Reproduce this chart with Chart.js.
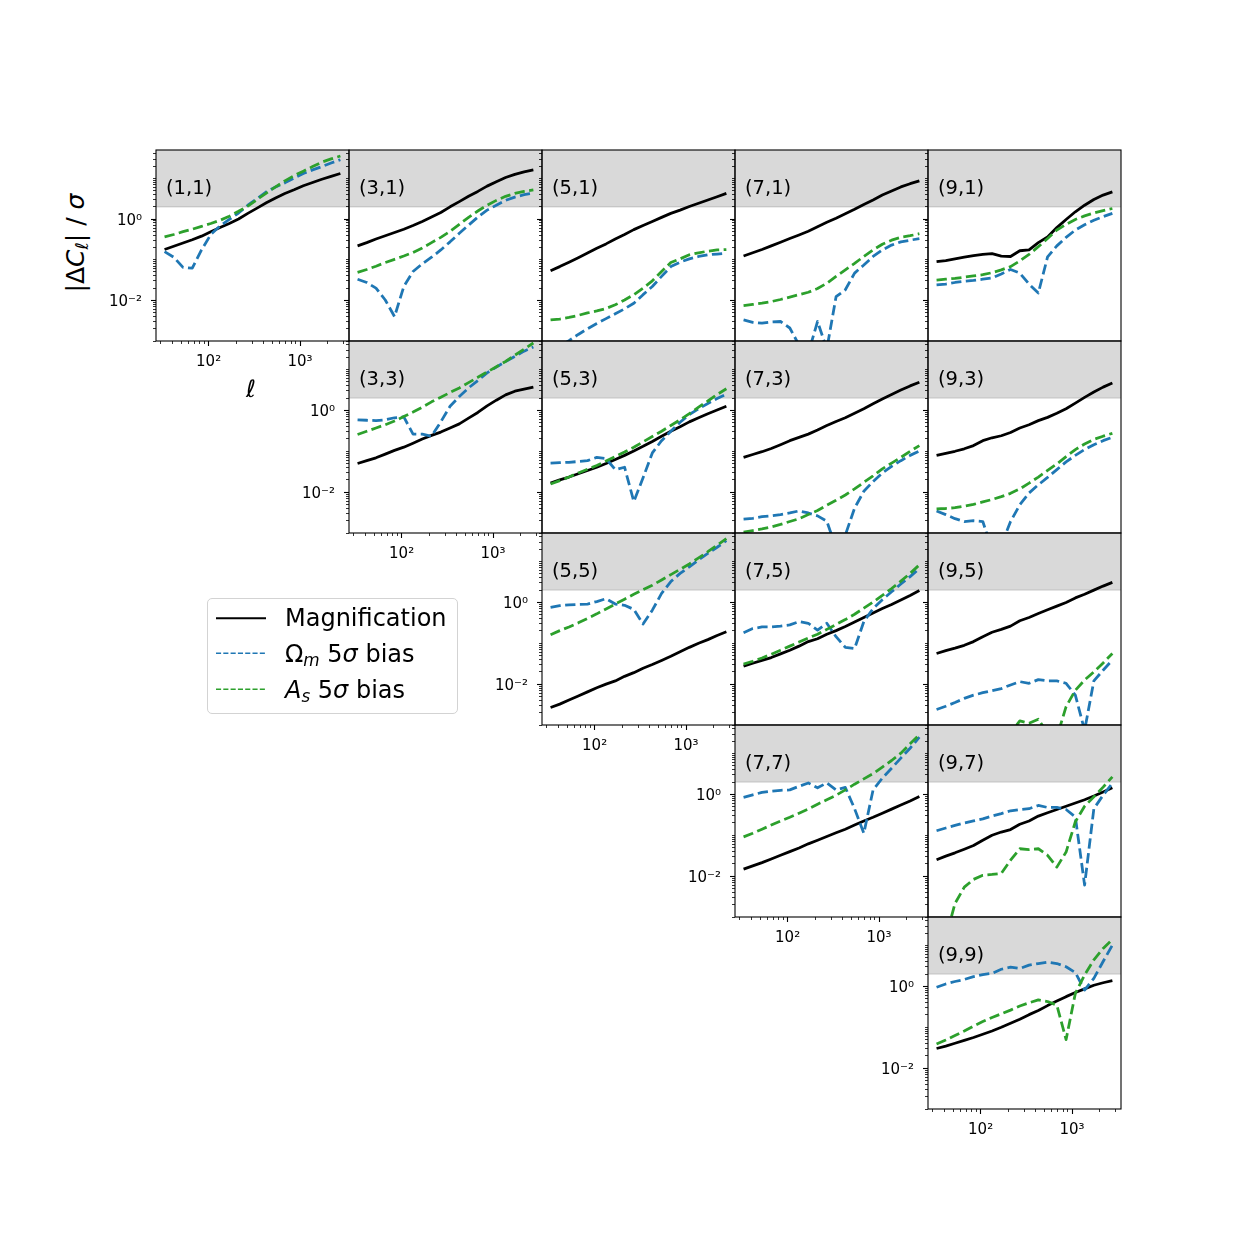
<!DOCTYPE html>
<html><head><meta charset="utf-8">
<script src="https://cdn.jsdelivr.net/npm/chart.js@4.4.1/dist/chart.umd.min.js"></script>
<style>
html,body{margin:0;padding:0;background:#fff;}
#fig{position:relative;width:1246px;height:1246px;overflow:hidden;font-family:'DejaVu Sans',sans-serif;color:#000;background:#fff;}
#fig canvas{position:absolute;}
.plab{position:absolute;font-size:19.5px;line-height:1;white-space:nowrap;z-index:5;transform:translateY(-50%);}
.ltxt{position:absolute;font-size:24px;line-height:1;white-space:nowrap;z-index:8;}
.ltxt sub{font-size:0.7em;vertical-align:-0.25em;line-height:0;}
#ylab{position:absolute;left:75px;top:243px;font-size:25px;line-height:1;white-space:nowrap;transform:translate(-50%,-50%) rotate(-90deg);z-index:5;}
#ylab sub{font-size:0.7em;vertical-align:-0.25em;line-height:0;}
#xlab{position:absolute;left:251px;top:389px;font-size:24px;line-height:1;font-style:italic;transform:translate(-50%,-50%);z-index:5;}
#legend{position:absolute;left:207px;top:598px;width:249px;height:114px;border:1px solid #d3d3d3;border-radius:5px;background:rgba(255,255,255,0.8);z-index:6;}
</style></head><body><div id="fig"></div>
<script>
// ---------------- data ----------------
const ell = [33.0, 41.6, 52.5, 66.3, 83.7, 105.7, 133.4, 168.4, 212.6, 268.4, 338.8, 427.8, 540.0, 681.8, 860.7, 1086.6, 1371.8, 1731.8, 2186, 2760];

const mag_11 = [0.178,0.214,0.257,0.309,0.380,0.490,0.617,0.776,1.00,1.38,1.86,2.51,3.31,4.27,5.25,6.61,7.94,9.55,11.2,13.2];
const om_11  = [0.158,0.115,0.0646,0.0617,0.174,0.417,0.676,0.977,1.41,2.19,3.16,4.68,6.17,7.76,10.2,13.2,16.2,19.5,24.0,28.8];
const As_11  = [0.363,0.417,0.490,0.562,0.661,0.776,0.933,1.17,1.55,2.09,3.02,4.37,6.17,8.71,11.7,15.1,19.5,25.1,30.2,35.5];

const mag_31 = [0.219,0.263,0.324,0.389,0.468,0.562,0.692,0.871,1.12,1.45,2.00,2.69,3.63,4.79,6.46,8.32,10.5,12.6,14.5,16.2];
const om_31  = [0.0331,0.0275,0.0200,0.0102,0.00398,0.0219,0.0513,0.0794,0.115,0.174,0.275,0.447,0.708,1.12,1.66,2.19,2.88,3.47,3.98,4.37];
const As_31  = [0.0490,0.0575,0.0692,0.0851,0.102,0.123,0.151,0.195,0.263,0.355,0.501,0.741,1.10,1.58,2.19,2.88,3.63,4.27,4.79,5.25];

const mag_51 = [0.0537,0.0676,0.0871,0.112,0.146,0.191,0.245,0.324,0.417,0.550,0.692,0.871,1.10,1.38,1.66,2.04,2.45,2.95,3.55,4.27];
const om_51  = [0.000537,0.000741,0.00102,0.00145,0.00200,0.00269,0.00355,0.00468,0.00617,0.00851,0.0138,0.0219,0.0389,0.0676,0.0871,0.105,0.120,0.132,0.138,0.145];
const As_51  = [0.00331,0.00347,0.00380,0.00427,0.00490,0.00550,0.00631,0.00776,0.0102,0.0138,0.0200,0.0302,0.0513,0.0851,0.105,0.132,0.148,0.162,0.174,0.178];

const mag_71 = [0.123,0.148,0.178,0.219,0.269,0.331,0.407,0.501,0.646,0.832,1.05,1.35,1.74,2.29,2.95,3.89,4.90,6.17,7.41,8.71];
const om_71  = [0.00331,0.00288,0.00275,0.00295,0.00302,0.00209,0.000794,0.000501,0.00302,0.000631,0.0123,0.0182,0.0468,0.0741,0.120,0.174,0.229,0.275,0.302,0.331];
const As_71  = [0.00741,0.00794,0.00851,0.00933,0.0105,0.0120,0.0138,0.0158,0.0195,0.0263,0.0389,0.0562,0.0813,0.120,0.174,0.240,0.302,0.355,0.389,0.437];

const mag_91 = [0.0891,0.0955,0.105,0.115,0.126,0.135,0.141,0.123,0.120,0.166,0.174,0.263,0.363,0.617,0.977,1.51,2.19,3.02,3.89,4.68];
const om_91  = [0.0240,0.0251,0.0275,0.0295,0.0309,0.0331,0.0355,0.0447,0.0575,0.0468,0.0251,0.0151,0.117,0.219,0.355,0.537,0.724,0.933,1.15,1.38];
const As_91  = [0.0316,0.0331,0.0347,0.0372,0.0398,0.0427,0.0479,0.0562,0.0676,0.0933,0.135,0.209,0.331,0.537,0.741,0.977,1.20,1.41,1.62,1.82];

const mag_33 = [0.0501,0.0589,0.0692,0.0851,0.105,0.126,0.158,0.200,0.245,0.295,0.372,0.468,0.646,0.891,1.29,1.78,2.40,2.95,3.31,3.72];
const om_33  = [0.589,0.575,0.562,0.589,0.661,0.692,0.263,0.263,0.234,0.525,1.26,2.19,3.55,5.37,8.32,11.5,15.8,20.9,28.2,35.5];
const As_33  = [0.257,0.309,0.372,0.447,0.550,0.708,0.912,1.20,1.62,2.09,2.75,3.55,4.79,6.46,8.71,11.7,15.8,22.4,31.6,44.7];

const mag_53 = [0.0166,0.0200,0.0234,0.0282,0.0339,0.0407,0.0501,0.0631,0.0794,0.102,0.132,0.174,0.234,0.309,0.398,0.525,0.661,0.832,1.02,1.26];
const om_53  = [0.0513,0.0525,0.0537,0.0562,0.0589,0.0708,0.0661,0.0355,0.0407,0.00589,0.0224,0.0912,0.182,0.309,0.513,0.794,1.10,1.48,1.95,2.51];
const As_53  = [0.0158,0.0191,0.0234,0.0295,0.0363,0.0447,0.0575,0.0741,0.0955,0.126,0.170,0.229,0.309,0.427,0.589,0.832,1.20,1.70,2.45,3.39];

const mag_73 = [0.0708,0.0832,0.0977,0.117,0.145,0.182,0.219,0.263,0.331,0.427,0.537,0.661,0.851,1.10,1.45,1.91,2.45,3.16,3.98,4.90];
const om_73  = [0.00219,0.00229,0.00251,0.00263,0.00282,0.00309,0.00347,0.00309,0.00263,0.00195,0.000427,0.000891,0.00407,0.0105,0.0182,0.0295,0.0427,0.0589,0.0794,0.102];
const As_73  = [0.00105,0.00115,0.00126,0.00141,0.00162,0.00191,0.00224,0.00282,0.00355,0.00479,0.00631,0.00851,0.0120,0.0174,0.0251,0.0372,0.0513,0.0708,0.100,0.138];

const mag_93 = [0.0794,0.0891,0.100,0.115,0.138,0.182,0.214,0.240,0.288,0.372,0.447,0.562,0.676,0.851,1.10,1.51,2.09,2.82,3.72,4.68];
const om_93  = [0.00347,0.00282,0.00224,0.00191,0.00200,0.00191,0.000398,0.000501,0.00191,0.00490,0.00955,0.0151,0.0229,0.0355,0.0550,0.0794,0.110,0.145,0.182,0.219];
const As_93  = [0.00389,0.00398,0.00417,0.00457,0.00501,0.00575,0.00661,0.00776,0.00933,0.0120,0.0166,0.0234,0.0339,0.0490,0.0741,0.110,0.151,0.195,0.234,0.275];

const mag_55 = [0.00269,0.00324,0.00407,0.00513,0.00646,0.00813,0.0100,0.0120,0.0155,0.0191,0.0245,0.0302,0.0380,0.0479,0.0617,0.0794,0.100,0.123,0.155,0.191];
const om_55  = [0.759,0.832,0.871,0.891,0.912,1.05,1.23,0.912,0.851,0.676,0.295,0.646,1.66,3.24,5.13,7.41,11.0,15.8,22.4,32.4];
const As_55  = [0.162,0.204,0.251,0.316,0.407,0.525,0.692,0.912,1.20,1.58,2.04,2.63,3.55,4.79,6.46,8.71,12.3,17.4,25.1,36.3];

const mag_75 = [0.0275,0.0324,0.0380,0.0447,0.0550,0.0676,0.0851,0.110,0.129,0.166,0.204,0.257,0.331,0.427,0.550,0.708,0.891,1.15,1.48,1.95];
const om_75  = [0.182,0.229,0.251,0.251,0.263,0.282,0.339,0.309,0.209,0.309,0.145,0.0794,0.0741,0.339,0.708,1.17,1.82,2.82,4.27,6.76];
const As_75  = [0.0309,0.0363,0.0437,0.0537,0.0676,0.0851,0.107,0.135,0.166,0.219,0.288,0.380,0.513,0.724,1.02,1.48,2.19,3.31,5.13,8.32];

const mag_95 = [0.0562,0.0661,0.0759,0.0891,0.110,0.145,0.186,0.219,0.263,0.355,0.427,0.537,0.661,0.813,1.00,1.29,1.58,2.00,2.51,3.09];
const om_95  = [0.00240,0.00288,0.00355,0.00447,0.00537,0.00617,0.00692,0.00776,0.00955,0.0115,0.0105,0.0129,0.0120,0.0120,0.0105,0.00537,0.000741,0.0120,0.0219,0.0389];
const As_95  = [0.00016,0.00018,0.00020,0.00025,0.00030,0.00035,0.00040,0.00045,0.00063,0.00126,0.00110,0.00138,0.00063,0.00050,0.00282,0.00708,0.0126,0.0200,0.0331,0.0562];

const mag_77 = [0.0148,0.0178,0.0214,0.0263,0.0324,0.0398,0.0490,0.0617,0.0759,0.0933,0.115,0.141,0.178,0.224,0.275,0.347,0.437,0.550,0.692,0.891];
const om_77  = [0.851,0.977,1.12,1.20,1.26,1.29,1.58,1.91,1.45,1.91,1.29,1.48,0.447,0.112,1.29,2.51,4.37,7.76,13.5,25.1];
const As_77  = [0.0912,0.112,0.141,0.178,0.224,0.275,0.347,0.437,0.575,0.741,0.955,1.29,1.78,2.40,3.24,4.68,6.76,10.2,17.4,28.8];

const mag_97 = [0.0251,0.0309,0.0372,0.0457,0.0562,0.0759,0.100,0.120,0.138,0.186,0.224,0.295,0.355,0.427,0.513,0.617,0.741,0.912,1.15,1.45];
const om_97  = [0.129,0.151,0.174,0.200,0.224,0.251,0.295,0.339,0.398,0.427,0.447,0.537,0.479,0.479,0.427,0.282,0.00603,0.447,0.955,1.86];
const As_97  = [0.0001,0.000309,0.00214,0.00537,0.00832,0.0105,0.0110,0.0117,0.0245,0.0468,0.0447,0.0468,0.0324,0.0166,0.0389,0.214,0.513,0.871,1.51,2.69];

const mag_99 = [0.0302,0.0347,0.0407,0.0479,0.0562,0.0676,0.0813,0.100,0.126,0.158,0.204,0.257,0.339,0.437,0.562,0.708,0.871,1.07,1.23,1.38];
const om_99  = [0.955,1.15,1.32,1.48,1.74,1.95,2.09,2.63,2.95,2.75,3.31,3.63,3.89,3.63,3.02,2.19,0.813,1.58,4.07,10.2];
const As_99  = [0.0389,0.0490,0.0631,0.0813,0.107,0.138,0.174,0.214,0.263,0.331,0.398,0.468,0.427,0.347,0.0501,0.676,1.91,4.47,8.51,14.1];

const xTickValues = [100, 1000];
const xTickLabels = ['10²', '10³'];
const xMinorTicks = [30,40,50,60,70,80,90,200,300,400,500,600,700,800,900,2000,3000];
const yTickValues = [0.01, 1];
const yTickLabels = ['10⁻²', '10⁰'];
const yMinorTicks = [0.001,0.002,0.003,0.004,0.005,0.006,0.007,0.008,0.009,
  0.02,0.03,0.04,0.05,0.06,0.07,0.08,0.09,0.1,0.2,0.3,0.4,0.5,0.6,0.7,0.8,0.9,
  2,3,4,5,6,7,8,9,10,20,30,40];
const XMIN = 26.6, XMAX = 3430, YMIN = 0.001, YMAX = 50;
const bandLevel = 2;

const panelDefs = [
  {label:'(1,1)', row:0, col:0, mag:mag_11, om:om_11, As:As_11},
  {label:'(3,1)', row:0, col:1, mag:mag_31, om:om_31, As:As_31},
  {label:'(5,1)', row:0, col:2, mag:mag_51, om:om_51, As:As_51},
  {label:'(7,1)', row:0, col:3, mag:mag_71, om:om_71, As:As_71},
  {label:'(9,1)', row:0, col:4, mag:mag_91, om:om_91, As:As_91},
  {label:'(3,3)', row:1, col:1, mag:mag_33, om:om_33, As:As_33},
  {label:'(5,3)', row:1, col:2, mag:mag_53, om:om_53, As:As_53},
  {label:'(7,3)', row:1, col:3, mag:mag_73, om:om_73, As:As_73},
  {label:'(9,3)', row:1, col:4, mag:mag_93, om:om_93, As:As_93},
  {label:'(5,5)', row:2, col:2, mag:mag_55, om:om_55, As:As_55},
  {label:'(7,5)', row:2, col:3, mag:mag_75, om:om_75, As:As_75},
  {label:'(9,5)', row:2, col:4, mag:mag_95, om:om_95, As:As_95},
  {label:'(7,7)', row:3, col:3, mag:mag_77, om:om_77, As:As_77},
  {label:'(9,7)', row:3, col:4, mag:mag_97, om:om_97, As:As_97},
  {label:'(9,9)', row:4, col:4, mag:mag_99, om:om_99, As:As_99}
];

// ---------------- drawing ----------------
const FONT = "'DejaVu Sans', sans-serif";
const fig = document.getElementById('fig');
const colEdge = j => Math.round(155.75 + 193.13 * j);
const rowEdge = i => Math.round(149.5 + 191.88 * i);
const ML = 60, MB = 40, PT = 2, PR = 2;

const framePlugin = {
  id: 'frame',
  afterDatasetsDraw(chart) {
    const {ctx, chartArea: a} = chart;
    ctx.save();
    ctx.strokeStyle = '#000';
    ctx.lineWidth = 1.1;
    ctx.strokeRect(a.left, a.top, a.right - a.left, a.bottom - a.top);
    ctx.restore();
  }
};

function lineDs(arr, color, dashed, order) {
  return {
    data: ell.map((x, i) => ({x: x, y: arr[i]})),
    borderColor: color, borderWidth: 2.78, borderDash: dashed ? [10.3, 4.45] : [],
    borderJoinStyle: 'round', pointRadius: 0, tension: 0, fill: false, order: order, clip: 0
  };
}

function fixSize(prop, val) {
  return s => {
    s[prop] = val;
    s.paddingTop = 0; s.paddingBottom = 0; s.paddingLeft = 0; s.paddingRight = 0;
  };
}

panelDefs.forEach(p => {
  const L = colEdge(p.col), R = colEdge(p.col + 1), T = rowEdge(p.row), B = rowEdge(p.row + 1);
  const W = R - L, H = B - T;
  const cw = ML + W + PR, ch = PT + H + MB;
  const cv = document.createElement('canvas');
  cv.width = cw; cv.height = ch;
  cv.style.left = (L - ML) + 'px'; cv.style.top = (T - PT) + 'px';
  cv.style.width = cw + 'px'; cv.style.height = ch + 'px';
  fig.appendChild(cv);
  const diag = p.row === p.col;

  new Chart(cv, {
    type: 'line',
    data: {datasets: [
      lineDs(p.As, '#2ca02c', true, 1),
      lineDs(p.om, '#1f77b4', true, 2),
      lineDs(p.mag, '#000000', false, 3),
      {data: [{x: XMIN, y: bandLevel}, {x: XMAX, y: bandLevel}], borderColor: 'rgba(128,128,128,0.3)',
       backgroundColor: 'rgba(128,128,128,0.3)', borderWidth: 1.4, fill: 'end', pointRadius: 0, order: 10, clip: 0}
    ]},
    options: {
      responsive: false, maintainAspectRatio: false, animation: false, events: [],
      layout: {padding: {top: PT, right: PR, left: 0, bottom: 0}, autoPadding: false},
      plugins: {legend: {display: false}, tooltip: {enabled: false}, title: {display: false}},
      scales: {
        x: {
          type: 'logarithmic', position: 'bottom', min: XMIN, max: XMAX, weight: 1,
          afterBuildTicks: s => { s.ticks = xTickValues.map(v => ({value: v})); },
          afterFit: fixSize('height', MB),
          ticks: {display: diag, autoSkip: false, maxRotation: 0, minRotation: 0, padding: 7, color: '#000',
                  font: {family: FONT, size: 15},
                  callback: v => xTickLabels[xTickValues.indexOf(v)]},
          grid: {display: diag, drawOnChartArea: false, drawTicks: true, tickLength: 5, tickColor: '#000', tickWidth: 1.1},
          border: {display: false}
        },
        xm: {
          type: 'logarithmic', position: 'bottom', min: XMIN, max: XMAX, weight: 0,
          afterBuildTicks: s => { s.ticks = xMinorTicks.map(v => ({value: v})); },
          afterFit: fixSize('height', 0),
          ticks: {display: false, autoSkip: false},
          grid: {display: diag, drawOnChartArea: false, drawTicks: true, tickLength: 3, tickColor: '#000', tickWidth: 0.8},
          border: {display: false}
        },
        y: {
          type: 'logarithmic', position: 'left', min: YMIN, max: YMAX, weight: 1,
          afterBuildTicks: s => { s.ticks = yTickValues.map(v => ({value: v})); },
          afterFit: fixSize('width', ML),
          ticks: {display: diag, autoSkip: false, padding: 9, color: '#000', labelOffset: 2,
                  font: {family: FONT, size: 15},
                  callback: v => yTickLabels[yTickValues.indexOf(v)]},
          grid: {display: true, drawOnChartArea: false, drawTicks: true, tickLength: 5, tickColor: '#000', tickWidth: 1.1},
          border: {display: false}
        },
        ym: {
          type: 'logarithmic', position: 'left', min: YMIN, max: YMAX, weight: 0,
          afterBuildTicks: s => { s.ticks = yMinorTicks.map(v => ({value: v})); },
          afterFit: fixSize('width', 0),
          ticks: {display: false, autoSkip: false},
          grid: {display: true, drawOnChartArea: false, drawTicks: true, tickLength: 3, tickColor: '#000', tickWidth: 0.8},
          border: {display: false}
        }
      }
    },
    plugins: [framePlugin]
  });

  const lab = document.createElement('div');
  lab.className = 'plab';
  lab.textContent = p.label;
  lab.style.left = (L + 10) + 'px';
  lab.style.top = (T + 38) + 'px';
  fig.appendChild(lab);
});

// axis labels
const yl = document.createElement('div');
yl.id = 'ylab';
yl.innerHTML = '|Δ<i>C</i><sub><i>ℓ</i></sub>| / <i>σ</i>';
fig.appendChild(yl);
const xl = document.createElement('div');
xl.id = 'xlab';
xl.textContent = 'ℓ';
fig.appendChild(xl);

// legend
const lg = document.createElement('div');
lg.id = 'legend';
fig.appendChild(lg);
const svgNS = 'http://www.w3.org/2000/svg';
const svg = document.createElementNS(svgNS, 'svg');
svg.setAttribute('width', '1246'); svg.setAttribute('height', '1246');
svg.style.position = 'absolute'; svg.style.left = '0'; svg.style.top = '0'; svg.style.zIndex = '7';
[[618.3, '#000', 2.1, null], [653.3, '#1f77b4', 1.4, '5.1 2.2'], [689.3, '#2ca02c', 1.4, '5.1 2.2']].forEach(r => {
  const ln = document.createElementNS(svgNS, 'line');
  ln.setAttribute('x1', '216'); ln.setAttribute('x2', '266');
  ln.setAttribute('y1', r[0]); ln.setAttribute('y2', r[0]);
  ln.setAttribute('stroke', r[1]); ln.setAttribute('stroke-width', r[2]);
  if (r[3]) ln.setAttribute('stroke-dasharray', r[3]);
  svg.appendChild(ln);
});
fig.appendChild(svg);
const legendTexts = ['Magnification', 'Ω<sub><i>m</i></sub> 5<i>σ</i> bias', '<i>A</i><sub><i>s</i></sub> 5<i>σ</i> bias'];
const legendTops = [606.4, 642.0, 677.8];
legendTexts.forEach((t, i) => {
  const d = document.createElement('div');
  d.className = 'ltxt';
  d.innerHTML = t;
  d.style.left = '285px';
  d.style.top = legendTops[i] + 'px';
  fig.appendChild(d);
});
</script></body></html>
